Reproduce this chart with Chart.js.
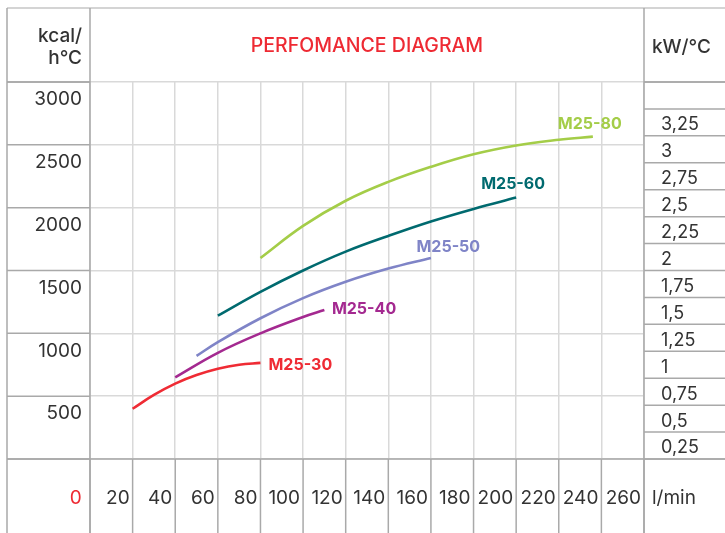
<!DOCTYPE html>
<html>
<head>
<meta charset="utf-8">
<script src="https://cdn.jsdelivr.net/npm/chart.js@4.4.1/dist/chart.umd.min.js"></script>
<style>
html,body{margin:0;padding:0;background:#fff;}
#wrap{width:725px;height:533px;position:relative;}
</style>
</head>
<body>
<div id="wrap"><canvas id="c" width="725" height="533"></canvas></div>
<script>
// ---------- data ----------
const chartTitle = 'PERFOMANCE DIAGRAM';
const leftUnit = ['kcal/', 'h°C'];
const rightUnit = 'kW/°C';
const flowUnit = 'l/min';
const seriesNames = ['M25-30', 'M25-40', 'M25-50', 'M25-60', 'M25-80'];

const flowM2530 = [20, 30, 40, 50, 60, 70, 80];
const kcalM2530 = [400, 510, 600, 668, 718, 750, 765];

const flowM2540 = [40, 60, 80, 100, 110];
const kcalM2540 = [650, 845, 1000, 1130, 1185];

const flowM2550 = [50, 60, 80, 100, 120, 140, 160];
const kcalM2550 = [820, 930, 1120, 1280, 1410, 1515, 1600];

const flowM2560 = [60, 80, 100, 120, 140, 160, 180, 200];
const kcalM2560 = [1140, 1330, 1500, 1650, 1775, 1890, 1990, 2080];

const flowM2580 = [80, 100, 120, 140, 160, 180, 200, 220, 236];
const kcalM2580 = [1600, 1855, 2055, 2205, 2325, 2425, 2495, 2540, 2565];

const flowTicks = { min: 0, max: 260, step: 20 };
const kcalTicks = { min: 0, max: 3000, step: 500 };
const kwTicks = { min: 0, max: 3.5, step: 0.25 };

// ---------- styles ----------
const FONT = 'Inter, "Noto Sans", "DejaVu Sans", sans-serif';
const TEXT = '#333333';
const RED = '#ee2a33';
const GRID = '#d9d9d9';
const BORDER = '#a9a9a9';
const seriesColors = ['#ef2b34', '#a42990', '#7f84c7', '#006a6f', '#a4cd48'];
const labelShift = [[8, 7.5], [7.5, 3.5], [-14.5, -5.5], [-35, -9], [-35, -7.5]];

const flows = [flowM2530, flowM2540, flowM2550, flowM2560, flowM2580];
const kcals = [kcalM2530, kcalM2540, kcalM2550, kcalM2560, kcalM2580];

const datasets = seriesNames.map((name, i) => ({
  label: name,
  data: flows[i].map((f, j) => ({ x: f, y: kcals[i][j] })),
  borderColor: seriesColors[i],
  backgroundColor: seriesColors[i],
  borderWidth: 2.6,
  pointRadius: 0,
  pointHoverRadius: 0,
  tension: 0.4,
  fill: false,
  yAxisID: 'y'
}));

function seg(ctx, x1, y1, x2, y2) {
  ctx.beginPath(); ctx.moveTo(x1, y1); ctx.lineTo(x2, y2); ctx.stroke();
}

const tablePlugin = {
  id: 'tableFrame',
  beforeDatasetsDraw(chart) {
    const { ctx, chartArea: a, scales } = chart;
    const L = 7, T = 8, R = chart.width, B = chart.height;
    ctx.save();
    ctx.lineWidth = 1.5;
    ctx.strokeStyle = '#c6c6c6';
    seg(ctx, L, T, R, T);
    ctx.strokeStyle = BORDER;
    seg(ctx, L, T, L, B);
    seg(ctx, a.left, T, a.left, B);
    seg(ctx, a.right, T, a.right, B);
    seg(ctx, L, a.bottom, R, a.bottom);
    seg(ctx, L, a.top, a.left, a.top);
    seg(ctx, a.right, a.top, R, a.top);
    scales.y.ticks.forEach(t => {
      const py = scales.y.getPixelForValue(t.value);
      seg(ctx, L, py, a.left, py);
    });
    scales.y2.ticks.forEach(t => {
      const py = scales.y2.getPixelForValue(t.value);
      seg(ctx, a.right, py, R, py);
    });
    scales.x.ticks.forEach(t => {
      const px = scales.x.getPixelForValue(t.value);
      seg(ctx, px, a.bottom, px, B);
    });
    // header unit texts
    ctx.fillStyle = TEXT;
    ctx.font = '500 19px ' + FONT;
    ctx.textBaseline = 'alphabetic';
    ctx.textAlign = 'right';
    ctx.fillText(leftUnit[0], a.left - 8, 41.5);
    ctx.fillText(leftUnit[1], a.left - 8, 63.5);
    ctx.textAlign = 'left';
    ctx.fillText(rightUnit, a.right + 8, 52.5);
    // flow unit
    ctx.font = '19px ' + FONT;
    ctx.textBaseline = 'middle';
    ctx.fillText(flowUnit, a.right + 8, 498);
    ctx.restore();
  },
  afterDatasetsDraw(chart) {
    const { ctx } = chart;
    ctx.save();
    ctx.font = 'bold 16px ' + FONT;
    ctx.textAlign = 'left';
    ctx.textBaseline = 'alphabetic';
    chart.data.datasets.forEach((ds, i) => {
      const meta = chart.getDatasetMeta(i);
      const last = meta.data[meta.data.length - 1];
      ctx.fillStyle = seriesColors[i];
      ctx.fillText(ds.label, last.x + labelShift[i][0], last.y + labelShift[i][1]);
    });
    ctx.restore();
  }
};

new Chart(document.getElementById('c'), {
  type: 'line',
  data: { datasets },
  options: {
    responsive: false,
    animation: false,
    layout: { padding: 0 },
    plugins: {
      legend: { display: false },
      tooltip: { enabled: false },
      title: {
        display: true,
        text: chartTitle,
        color: RED,
        fullSize: false,
        font: { family: FONT, size: 19.5, weight: '500', lineHeight: 1.2 },
        padding: { top: 34, bottom: 24.6 }
      }
    },
    scales: {
      x: {
        type: 'linear',
        position: 'bottom',
        min: flowTicks.min,
        max: flowTicks.max,
        afterFit: s => { s.height = 74; },
        grid: { color: GRID, lineWidth: 1.5, drawTicks: false },
        border: { display: false },
        ticks: {
          stepSize: flowTicks.step,
          autoSkip: false,
          maxRotation: 0,
          align: 'end',
          labelOffset: -3,
          padding: 28,
          font: { family: FONT, size: 19 },
          color: c => (c.tick && c.tick.value === 0 ? RED : TEXT),
          callback: v => (v === 0 ? '0 ' : String(v))
        }
      },
      y: {
        type: 'linear',
        position: 'left',
        min: kcalTicks.min,
        max: kcalTicks.max,
        afterFit: s => { s.width = 90; },
        grid: { color: GRID, lineWidth: 1.5, drawTicks: false },
        border: { display: false },
        ticks: {
          stepSize: kcalTicks.step,
          padding: 8,
          labelOffset: 17.5,
          font: { family: FONT, size: 19 },
          color: TEXT,
          callback: v => (v === 0 ? '' : String(v))
        }
      },
      y2: {
        type: 'linear',
        position: 'right',
        min: kwTicks.min,
        max: kwTicks.max,
        afterFit: s => { s.width = 81; },
        grid: { display: false, drawOnChartArea: false },
        border: { display: false },
        ticks: {
          stepSize: kwTicks.step,
          padding: 9,
          labelOffset: 16,
          font: { family: FONT, size: 18 },
          color: TEXT,
          callback: v => (v === 0 || v === kwTicks.max ? '' : String(v).replace('.', ','))
        }
      }
    }
  },
  plugins: [tablePlugin]
});
</script>
</body>
</html>
